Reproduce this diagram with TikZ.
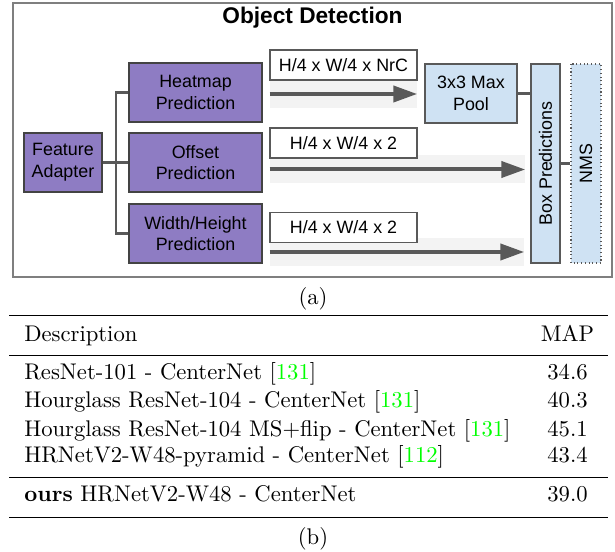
\documentclass[tikz,border=0pt]{standalone}
\usepackage{fontspec}
\usetikzlibrary{arrows.meta}
\setmainfont{lmroman10-regular.otf}[BoldFont=lmroman10-bold.otf]
\newfontfamily\diagfont{Liberation Sans}
\definecolor{headpurple}{HTML}{8E7CC3}
\definecolor{poolblue}{HTML}{CFE2F3}
\definecolor{bandgrey}{HTML}{F3F3F3}
\definecolor{arrowgrey}{HTML}{595959}
\definecolor{edgegrey}{HTML}{434343}
\definecolor{framegrey}{HTML}{7F7F7F}
\definecolor{citegreen}{RGB}{0,255,0}
\newcommand{\refnum}[1]{[\textcolor{citegreen}{#1}]}

\begin{document}
\begin{tikzpicture}[x=0.75pt,y=-0.75pt,
  diag/.style={font=\diagfont\fontsize{13.4}{16.2}\selectfont},
  headbox/.style={diag,draw=edgegrey,fill=headpurple,line width=0.8pt,align=center,inner sep=0pt,minimum height=44.25pt},
  bluebox/.style={diag,draw=arrowgrey,fill=poolblue,line width=0.8pt,align=center,inner sep=0pt},
  dimbox/.style={diag,draw=arrowgrey,fill=white,line width=0.8pt,inner sep=0pt,minimum width=110.25pt,minimum height=22.5pt},
  band/.style={fill=bandgrey,inner sep=0pt,minimum height=21pt},
  flow/.style={arrowgrey,line width=3pt,-{Triangle[length=18pt,width=12pt]}},
  link/.style={arrowgrey,line width=1.6pt},
  tab/.style={font=\fontsize{17}{20}\selectfont,inner sep=0pt}]
\useasboundingbox (0,0) rectangle (615,552);
% (a) detection head
\draw[framegrey,line width=0.9pt] (13,3) rectangle (612,277);
\node[font=\diagfont\bfseries\fontsize{17}{20}\selectfont,anchor=base] (title) at (312.5,24) {Object Detection};
\node[headbox,minimum width=58.5pt] (adapter) at (63,162.5) {Feature\\Adapter};
\node[headbox,minimum width=99.75pt] (heatmap) at (195.5,92.5) {Heatmap\\Prediction};
\node[headbox,minimum width=99.75pt] (offset) at (195.5,162.5) {Offset\\Prediction};
\node[headbox,minimum width=99.75pt] (wh) at (195.5,233.5) {Width/Height\\Prediction};
\foreach \n/\dims/\ly/\bx/\by/\bw in {1/{H/4 x W/4 x NrC}/65/343.5/94/110.25pt,
    2/{H/4 x W/4 x 2}/143/397.5/169.5/191.25pt,
    3/{H/4 x W/4 x 2}/227.5/397/252/190.5pt}{
  \node[band,minimum width=\bw] (band\n) at (\bx,\by) {};
  \node[dimbox] (dim\n) at (343.5,\ly) {\dims};
  \draw[flow] (band\n.west) -- (band\n.east);
}
\node[bluebox,minimum width=69pt,minimum height=44.25pt] (pool) at (471,93.5) {3x3 Max\\Pool};
\node[bluebox,rotate=90,minimum width=149.25pt,minimum height=21.75pt] (boxpred) at (545.5,163.5) {Box Predictions};
\node[bluebox,rotate=90,dotted,minimum width=149.25pt,minimum height=22.5pt] (nms) at (586,163.5) {NMS};
\coordinate (fork) at (116,162.5);
\draw[link] (adapter.east) -- (offset.west);
\draw[link] (heatmap.west) -| (fork) |- (wh.west);
\draw[link] (pool.east) -- (pool.east -| boxpred.north);
\draw[link] (boxpred.south) -- (nms.north);
\node[tab,anchor=base] (capa) at (313,305) {(a)};
% (b) results table
\draw[line width=1.1pt] (9,315.5) -- (608,315.5);
\draw[line width=0.6pt] (9,355) -- (608,355);
\draw[line width=0.6pt] (9,477.7) -- (608,477.7);
\draw[line width=1.1pt] (9,517.3) -- (608,517.3);
\node[tab,anchor=base west] (desc) at (24,342) {Description};
\node[tab,anchor=base] (map) at (567.5,342) {MAP};
\foreach \desc/\cit/\score/\ypos [count=\i] in {ResNet-101 - CenterNet/131/34.6/380,
    Hourglass ResNet-104 - CenterNet/131/40.3/408,
    Hourglass ResNet-104 MS+flip - CenterNet/131/45.1/436.5,
    HRNetV2-W48-pyramid - CenterNet/112/43.4/463}{
  \node[tab,anchor=base west] (row\i) at (24,\ypos) {\desc{} \refnum{\cit}};
  \node[tab,anchor=base] (score\i) at (567.5,\ypos) {\score};
}
\node[tab,anchor=base west] (ours) at (24,501.7) {\textbf{ours} HRNetV2-W48 - CenterNet};
\node[tab,anchor=base] (oursscore) at (567.5,501.7) {39.0};
\node[tab,anchor=base] (capb) at (313,545) {(b)};
\end{tikzpicture}
\end{document}
